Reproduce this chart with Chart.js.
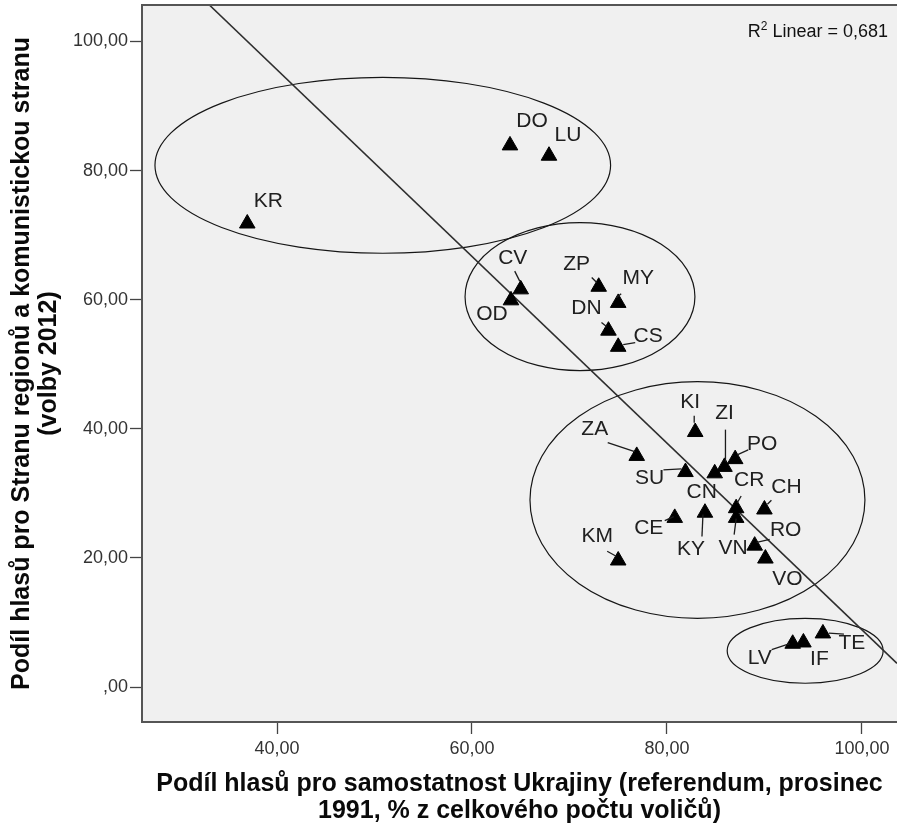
<!DOCTYPE html>
<html>
<head>
<meta charset="utf-8">
<script src="https://cdn.jsdelivr.net/npm/chart.js@4.4.1/dist/chart.umd.min.js"></script>
<style>
  html, body { margin: 0; padding: 0; background: #ffffff; }
  #wrap { width: 897px; height: 824px; }
</style>
</head>
<body>
<div id="wrap"><canvas id="c" width="897" height="824"></canvas></div>
<script>
// ---------- DATA ----------
const regionCodes = ['KR','DO','LU','CV','OD','ZP','MY','DN','CS','KI','ZA','SU','CN','ZI','PO','CR','VN','CH','CE','KY','RO','VO','KM','LV','IF','TE'];
const independence1991 = [36.95, 63.9, 67.9, 65.0, 64.0, 73.0, 75.0, 74.0, 75.0, 82.9, 76.9, 81.9, 84.9, 85.9, 87.0, 87.1, 87.1, 90.0, 80.8, 83.9, 89.0, 90.1, 75.0, 92.9, 94.0, 96.0];
const regionsCommunists2012 = [71.8, 83.9, 82.3, 61.6, 59.9, 62.0, 59.5, 55.2, 52.7, 39.5, 35.8, 33.3, 33.1, 34.1, 35.3, 27.7, 26.2, 27.5, 26.2, 27.0, 21.9, 19.9, 19.6, 6.7, 6.9, 8.3];

const xTickValues = [40, 60, 80, 100];
const yTickValues = [0, 20, 40, 60, 80, 100];

// linear fit line (as read at the plot borders)
const fitX = [33.06, 103.6];
const fitY = [105.65, 3.67];
const r2Value = '0,681';

// cluster ellipses (data units)
const ellipseCenterX = [50.85, 71.08, 83.13, 94.18];
const ellipseCenterY = [80.82, 60.47, 28.97, 5.61];
const ellipseRadiusX = [23.37, 11.79, 17.18, 8.0];
const ellipseRadiusY = [13.63, 11.46, 18.33, 5.03];

const xTitle = ['Podíl hlasů pro samostatnost Ukrajiny (referendum, prosinec', '1991, % z celkového počtu voličů)'];
const yTitle = ['Podíl hlasů pro Stranu regionů a komunistickou stranu', '(volby 2012)'];

// ---------- LABEL PLACEMENT (pixel offsets from marker) ----------
const labelLayout = {
  KR: {d: [21, -20]}, DO: {d: [22, -22]}, LU: {d: [19, -18]},
  CV: {d: [-8, -29], l: [-6, -16, -1, -6]},
  OD: {d: [-19, 16]},
  ZP: {d: [-22, -20], l: [-7, -7, -2, -2]},
  MY: {d: [20, -22], l: [3, -7, -2, -3]},
  DN: {d: [-22, -20], l: [-7, -6, -2, -2]},
  CS: {d: [30, -8], l: [17, -2, 5, 0]},
  KI: {d: [-5, -28], l: [-1, -14, -1, -7]},
  ZA: {d: [-42, -24], l: [-29, -11, -2, -2]},
  SU: {d: [-36, 8], l: [-22, 0, -4, -1]},
  CN: {d: [-13, 21]},
  ZI: {d: [0, -51], l: [1, -35, 1, -3]},
  PO: {d: [27, -13], l: [13, -7, 2, -2]},
  CR: {d: [13, -26], l: [5, -10, 1, -3]},
  VN: {d: [-3, 33], l: [-2, 19, 0, 3]},
  CH: {d: [22, -20], l: [7, -7, 3, -3]},
  CE: {d: [-26, 13], l: [-10, 5, -1, 1]},
  KY: {d: [-14, 39], l: [-3, 26, -2, 4]},
  RO: {d: [31, -13], l: [15, -4, 2, -1]},
  VO: {d: [22, 23]},
  KM: {d: [-21, -22], l: [-11, -7, -2, -2]},
  LV: {d: [-33, 17], l: [-21, 8, -3, 2]},
  IF: {d: [16, 19]},
  TE: {d: [29, 12], l: [21, 3, 6, 2]}
};

const FONT = '"Liberation Sans", Arial, sans-serif';
const MARKER_R = 9;

const fmt = v => (v === 0 ? ',00' : v.toFixed(2).replace('.', ','));

const zeroPad = s => { s.paddingLeft = 0; s.paddingRight = 0; s.paddingTop = 0; s.paddingBottom = 0; };

const plotDecor = {
  id: 'plotDecor',
  beforeDraw(chart) {
    const {ctx, chartArea: a} = chart;
    ctx.save();
    ctx.fillStyle = '#f0f0f0';
    ctx.fillRect(a.left, a.top, a.right - a.left, a.bottom - a.top);
    ctx.restore();
  },
  beforeDatasetsDraw(chart) {
    const {ctx, chartArea: a, scales: {x, y}} = chart;
    ctx.save();
    ctx.beginPath();
    ctx.rect(a.left, a.top, a.right - a.left, a.bottom - a.top);
    ctx.clip();
    ctx.strokeStyle = '#161616';
    ctx.lineWidth = 1.2;
    for (let i = 0; i < ellipseCenterX.length; i++) {
      const cx = x.getPixelForValue(ellipseCenterX[i]);
      const cy = y.getPixelForValue(ellipseCenterY[i]);
      const rx = Math.abs(x.getPixelForValue(ellipseCenterX[i] + ellipseRadiusX[i]) - cx);
      const ry = Math.abs(y.getPixelForValue(ellipseCenterY[i] + ellipseRadiusY[i]) - cy);
      ctx.beginPath();
      ctx.ellipse(cx, cy, rx, ry, 0, 0, Math.PI * 2);
      ctx.stroke();
    }
    ctx.restore();
  },
  afterDatasetsDraw(chart) {
    const {ctx, chartArea: a} = chart;
    const meta = chart.getDatasetMeta(0);
    ctx.save();
    // labels & leaders
    ctx.font = '21px ' + FONT;
    ctx.fillStyle = '#202020';
    ctx.textAlign = 'center';
    ctx.textBaseline = 'middle';
    ctx.strokeStyle = '#1c1c1c';
    ctx.lineWidth = 1.3;
    meta.data.forEach((pt, i) => {
      const code = regionCodes[i];
      const L = labelLayout[code];
      if (!L) return;
      const px = pt.x, py = pt.y - 0.25 * MARKER_R;
      if (L.l) {
        ctx.beginPath();
        ctx.moveTo(px + L.l[0], py + L.l[1]);
        ctx.lineTo(px + L.l[2], py + L.l[3]);
        ctx.stroke();
      }
      ctx.fillText(code, px + L.d[0], py + L.d[1]);
    });
    // frame
    ctx.strokeStyle = '#555555';
    ctx.lineWidth = 2;
    ctx.beginPath();
    ctx.moveTo(a.right + 2, a.top);
    ctx.lineTo(a.left, a.top);
    ctx.lineTo(a.left, a.bottom);
    ctx.lineTo(a.right + 2, a.bottom);
    ctx.stroke();
    // R² annotation
    const rightX = a.right - 9;
    const base = a.top + 31.5;
    const mainFont = '18px ' + FONT;
    const supFont = '12px ' + FONT;
    const rest = ' Linear = ' + r2Value;
    ctx.fillStyle = '#111';
    ctx.textAlign = 'left';
    ctx.textBaseline = 'alphabetic';
    ctx.font = mainFont;
    const wRest = ctx.measureText(rest).width;
    const wR = ctx.measureText('R').width;
    ctx.font = supFont;
    const wSup = ctx.measureText('2').width;
    let sx = rightX - wRest - wSup - wR;
    ctx.font = mainFont;
    ctx.fillText('R', sx, base);
    ctx.font = supFont;
    ctx.fillText('2', sx + wR, base - 7);
    ctx.font = mainFont;
    ctx.fillText(rest, sx + wR + wSup, base);
    ctx.restore();
  }
};

const points = independence1991.map((v, i) => ({x: v, y: regionsCommunists2012[i]}));
const fitPoints = fitX.map((v, i) => ({x: v, y: fitY[i]}));

new Chart(document.getElementById('c'), {
  type: 'scatter',
  data: {
    datasets: [
      {
        label: 'Regions',
        data: points,
        pointStyle: 'triangle',
        pointRadius: MARKER_R,
        pointHoverRadius: MARKER_R,
        backgroundColor: '#000',
        borderColor: '#000',
        borderWidth: 1,
        order: 0
      },
      {
        type: 'line',
        label: 'Fit',
        data: fitPoints,
        borderColor: '#2e2e2e',
        borderWidth: 1.6,
        pointRadius: 0,
        fill: false,
        order: 1
      }
    ]
  },
  options: {
    responsive: false,
    animation: false,
    devicePixelRatio: 1,
    layout: {autoPadding: false, padding: {top: 5, left: 0, right: 0, bottom: 0}},
    plugins: {legend: {display: false}, tooltip: {enabled: false}},
    scales: {
      x: {
        type: 'linear',
        min: 26.15,
        max: 103.6,
        afterBuildTicks: s => { s.ticks = xTickValues.map(v => ({value: v})); },
        afterFit: s => { s.height = 102; zeroPad(s); },
        grid: {drawOnChartArea: false, drawTicks: true, tickLength: 12, tickColor: '#444', tickWidth: 1.3},
        border: {display: false},
        ticks: {
          callback: v => fmt(v),
          color: '#333',
          font: {family: FONT, size: 18},
          padding: 4,
          maxRotation: 0,
          autoSkip: false
        },
        title: {
          display: true,
          text: xTitle,
          color: '#0a0a0a',
          font: {family: FONT, size: 25, weight: 'bold', lineHeight: 1.07},
          padding: {top: 0, bottom: 0}
        }
      },
      y: {
        type: 'linear',
        min: -5.42,
        max: 105.65,
        afterBuildTicks: s => { s.ticks = yTickValues.map(v => ({value: v})); },
        afterFit: s => { s.width = 142; zeroPad(s); },
        grid: {drawOnChartArea: false, drawTicks: true, tickLength: 12, tickColor: '#444', tickWidth: 1.3},
        border: {display: false},
        ticks: {
          callback: v => fmt(v),
          color: '#333',
          font: {family: FONT, size: 18},
          padding: 2,
          autoSkip: false
        },
        title: {
          display: true,
          text: yTitle,
          color: '#0a0a0a',
          font: {family: FONT, size: 25, weight: 'bold', lineHeight: 1.07},
          padding: {top: 9, bottom: 0}
        }
      }
    }
  },
  plugins: [plotDecor]
});
</script>
</body>
</html>
